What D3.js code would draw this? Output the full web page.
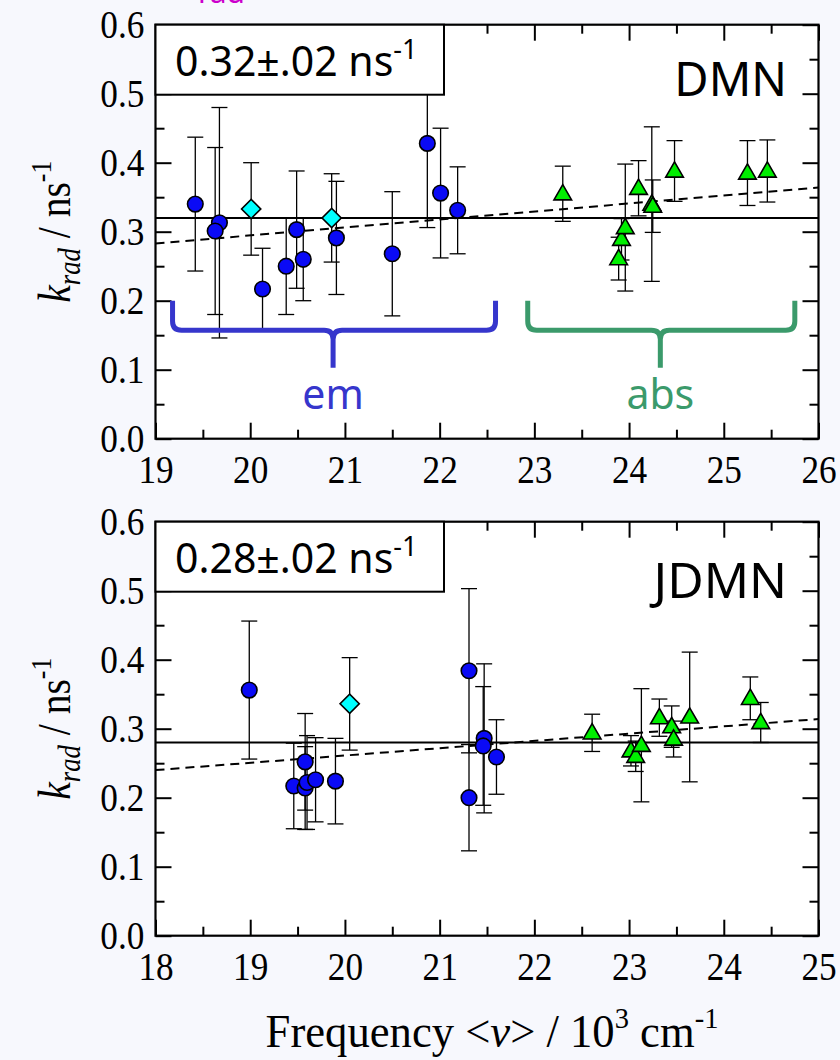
<!DOCTYPE html>
<html><head><meta charset="utf-8">
<script src="https://cdn.jsdelivr.net/npm/d3@7"></script>
<style>
html,body{margin:0;padding:0;background:#f7f8fd;}
svg{display:block;}
</style></head><body>
<svg id="chart" width="840" height="1060"></svg>
<script>
// ---- data: DMN (top panel) ----
const dmnEmX   = [19.42, 19.675, 19.63, 20.13, 20.38, 20.49, 20.56, 20.91, 21.50, 21.87, 22.01, 22.19];
const dmnEmY   = [0.340, 0.313, 0.301, 0.217, 0.250, 0.303, 0.260, 0.291, 0.268, 0.428, 0.356, 0.331];
const dmnEmErr = [0.097, 0.167, 0.121, 0.059, 0.070, 0.085, 0.060, 0.082, 0.090, 0.122, 0.094, 0.063];
const dmnAltX   = [20.01, 20.86];
const dmnAltY   = [0.333, 0.320];
const dmnAltErr = [0.067, 0.064];
const dmnAbsX   = [23.30, 23.89, 23.92, 23.96, 24.10, 24.24, 24.25, 24.48, 25.25, 25.46];
const dmnAbsY   = [0.355, 0.261, 0.289, 0.306, 0.363, 0.340, 0.337, 0.388, 0.385, 0.388];
const dmnAbsErr = [0.040, 0.031, 0.030, 0.092, 0.040, 0.112, 0.038, 0.044, 0.047, 0.045];
const dmnMean = 0.32;
const dmnFitEnds = [[19, 0.283], [26, 0.364]];
const dmnLabel = "0.32\u00b1.02 ns";

// ---- data: JDMN (bottom panel) ----
const jdmnEmX   = [18.99, 19.46, 19.58, 19.58, 19.60, 19.69, 19.90, 21.31, 21.31, 21.47, 21.46, 21.60];
const jdmnEmY   = [0.356, 0.217, 0.252, 0.214, 0.222, 0.226, 0.224, 0.384, 0.200, 0.286, 0.275, 0.259];
const jdmnEmErr = [0.100, 0.062, 0.070, 0.060, 0.068, 0.061, 0.062, 0.119, 0.077, 0.108, 0.086, 0.054];
const jdmnAltX   = [20.05];
const jdmnAltY   = [0.336];
const jdmnAltErr = [0.067];
const jdmnAbsX   = [22.61, 23.02, 23.07, 23.13, 23.32, 23.45, 23.47, 23.64, 24.28, 24.39];
const jdmnAbsY   = [0.294, 0.268, 0.260, 0.276, 0.316, 0.303, 0.285, 0.317, 0.344, 0.309];
const jdmnAbsErr = [0.027, 0.022, 0.022, 0.082, 0.027, 0.030, 0.026, 0.094, 0.031, 0.029];
const jdmnMean = 0.28;
const jdmnFitEnds = [[18, 0.240], [25, 0.314]];
const jdmnLabel = "0.28\u00b1.02 ns";

// ---- axes ----
const yTicks = [0, 0.1, 0.2, 0.3, 0.4, 0.5, 0.6];
const yMinorTicks = [0.05, 0.15, 0.25, 0.35, 0.45, 0.55];
const dmnXTicks = [19, 20, 21, 22, 23, 24, 25, 26];
const jdmnXTicks = [18, 19, 20, 21, 22, 23, 24, 25];

// bracket annotations in the DMN panel: [left, mid, right] frequency, label
const bracketEm  = {x: [19.18, 20.875, 22.59], label: "em"};
const bracketAbs = {x: [22.93, 24.33, 25.75], label: "abs"};

const svg = d3.select("#chart");
const serif = "'Liberation Serif', 'Times New Roman', serif";
const sans = "'Noto Sans', 'Open Sans', sans-serif";

const plotLeft = 155.5, plotRight = 818.5;

function zipPts(xs, ys, es) { return xs.map((x, i) => ({x, y: ys[i], e: es[i]})); }

function drawPanel(cfg) {
  const g = svg.append("g");
  const x = d3.scaleLinear().domain(cfg.xDomain).range([plotLeft, plotRight]);
  const y = d3.scaleLinear().domain([0, 0.6]).range([cfg.bottom, cfg.top]);

  g.append("rect").attr("x", plotLeft).attr("y", cfg.top)
    .attr("width", plotRight - plotLeft).attr("height", cfg.bottom - cfg.top)
    .attr("fill", "#fff");

  // mean rate
  g.append("line").attr("x1", plotLeft).attr("x2", plotRight)
    .attr("y1", y(cfg.mean)).attr("y2", y(cfg.mean))
    .attr("stroke", "#000").attr("stroke-width", 2);
  // linear trend
  g.append("line")
    .attr("x1", x(cfg.fit[0][0])).attr("y1", y(cfg.fit[0][1]))
    .attr("x2", x(cfg.fit[1][0])).attr("y2", y(cfg.fit[1][1]))
    .attr("stroke", "#000").attr("stroke-width", 2).attr("stroke-dasharray", "9,6");

  const all = [...cfg.em, ...cfg.alt, ...cfg.abs];
  const eb = g.append("g").attr("stroke", "#000").attr("stroke-width", 1.3);
  all.forEach(d => {
    const cx = x(d.x), y1 = y(d.y + d.e), y2 = y(d.y - d.e);
    eb.append("line").attr("x1", cx).attr("x2", cx).attr("y1", y1).attr("y2", y2);
    eb.append("line").attr("x1", cx - 8).attr("x2", cx + 8).attr("y1", y1).attr("y2", y1);
    eb.append("line").attr("x1", cx - 8).attr("x2", cx + 8).attr("y1", y2).attr("y2", y2);
  });

  const circ = d3.symbol(d3.symbolCircle).size(190)();
  const diam = d3.symbol(d3.symbolSquare).size(185)();
  const tri = d3.symbol(d3.symbolTriangle).size(135)();

  g.append("g").selectAll("path").data(cfg.em).join("path")
    .attr("d", circ).attr("transform", d => `translate(${x(d.x)},${y(d.y)})`)
    .attr("fill", "#0a0af5").attr("stroke", "#000").attr("stroke-width", 1.6);
  g.append("g").selectAll("path").data(cfg.alt).join("path")
    .attr("d", diam).attr("transform", d => `translate(${x(d.x)},${y(d.y)}) rotate(45)`)
    .attr("fill", "#00ffff").attr("stroke", "#000").attr("stroke-width", 1.6);
  g.append("g").selectAll("path").data(cfg.abs).join("path")
    .attr("d", tri).attr("transform", d => `translate(${x(d.x)},${y(d.y) + 1})`)
    .attr("fill", "#00ee00").attr("stroke", "#000").attr("stroke-width", 1.6);

  // axes with inward ticks
  const xMinor = d3.range(cfg.xDomain[0] + 0.5, cfg.xDomain[1], 1);
  const axes = [
    [d3.axisBottom(x).tickValues(cfg.xTicks).tickSizeInner(-16).tickSizeOuter(0).tickPadding(15).tickFormat(d3.format("d")), `translate(0,${cfg.bottom})`],
    [d3.axisBottom(x).tickValues(xMinor).tickSizeInner(-9).tickSizeOuter(0).tickFormat(""), `translate(0,${cfg.bottom})`],
    [d3.axisTop(x).tickValues(cfg.xTicks).tickSizeInner(-16).tickSizeOuter(0).tickFormat(""), `translate(0,${cfg.top})`],
    [d3.axisTop(x).tickValues(xMinor).tickSizeInner(-9).tickSizeOuter(0).tickFormat(""), `translate(0,${cfg.top})`],
    [d3.axisLeft(y).tickValues(yTicks).tickSizeInner(-16).tickSizeOuter(0).tickPadding(13).tickFormat(d3.format(".1f")), `translate(${plotLeft},0)`],
    [d3.axisLeft(y).tickValues(yMinorTicks).tickSizeInner(-9).tickSizeOuter(0).tickFormat(""), `translate(${plotLeft},0)`],
    [d3.axisRight(y).tickValues(yTicks).tickSizeInner(-16).tickSizeOuter(0).tickFormat(""), `translate(${plotRight},0)`],
    [d3.axisRight(y).tickValues(yMinorTicks).tickSizeInner(-9).tickSizeOuter(0).tickFormat(""), `translate(${plotRight},0)`]
  ];
  axes.forEach(([ax, tr]) => {
    const a = g.append("g").attr("transform", tr).call(ax);
    a.select(".domain").remove();
    a.selectAll(".tick line").attr("stroke", "#000").attr("stroke-width", 2);
    a.selectAll(".tick text").attr("font-family", serif).attr("font-size", 41)
      .attr("fill", "#000").attr("transform", "scale(0.86,1)");
  });

  g.append("rect").attr("x", plotLeft).attr("y", cfg.top)
    .attr("width", plotRight - plotLeft).attr("height", cfg.bottom - cfg.top)
    .attr("fill", "none").attr("stroke", "#000").attr("stroke-width", 2.2);

  // rate box
  g.append("rect").attr("x", plotLeft).attr("y", cfg.top)
    .attr("width", 288.5).attr("height", 70)
    .attr("fill", "#fff").attr("stroke", "#000").attr("stroke-width", 2);
  const bt = g.append("text").attr("x", 175).attr("y", cfg.top + 51)
    .attr("font-family", sans).attr("font-size", 41).attr("fill", "#000");
  bt.append("tspan").text(cfg.label);
  bt.append("tspan").attr("font-size", 27).attr("dy", -17).text("-1");

  g.append("text").attr("x", 787).attr("y", cfg.top + cfg.nameDy)
    .attr("text-anchor", "end").attr("font-family", sans).attr("font-size", cfg.nameSize)
    .attr("fill", "#000").text(cfg.name);

  // y-axis title
  const yt = g.append("text")
    .attr("transform", `translate(70,${(cfg.top + cfg.bottom) / 2}) rotate(-90) scale(0.86,1)`)
    .attr("text-anchor", "middle").attr("font-family", serif).attr("font-size", 46).attr("fill", "#000");
  yt.append("tspan").attr("font-style", "italic").text("k");
  yt.append("tspan").attr("font-style", "italic").attr("font-size", 31).attr("dy", 10).text("rad");
  yt.append("tspan").attr("dy", -10).text(" / ns");
  yt.append("tspan").attr("font-size", 30).attr("dy", -19).text("-1");

  return {g, x, y};
}

const dmnPanel = drawPanel({
  xDomain: [19, 26], top: 24.7, bottom: 438.7, xTicks: dmnXTicks,
  em: zipPts(dmnEmX, dmnEmY, dmnEmErr), alt: zipPts(dmnAltX, dmnAltY, dmnAltErr),
  abs: zipPts(dmnAbsX, dmnAbsY, dmnAbsErr), mean: dmnMean, fit: dmnFitEnds,
  label: dmnLabel, name: "DMN", nameDy: 71, nameSize: 47
});
drawPanel({
  xDomain: [18, 25], top: 521.7, bottom: 935.7, xTicks: jdmnXTicks,
  em: zipPts(jdmnEmX, jdmnEmY, jdmnEmErr), alt: zipPts(jdmnAltX, jdmnAltY, jdmnAltErr),
  abs: zipPts(jdmnAbsX, jdmnAbsY, jdmnAbsErr), mean: jdmnMean, fit: jdmnFitEnds,
  label: jdmnLabel, name: "JDMN", nameDy: 76, nameSize: 50
});

// curly brackets marking emission and absorption ranges
function bracket(b, color) {
  const {x, y} = dmnPanel;
  const [l, m, r] = b.x.map(x);
  const yT = y(0.2), yH = y(0.157), yS = y(0.103), rr = 9;
  const p = d3.path();
  p.moveTo(l, yT); p.lineTo(l, yH - rr); p.quadraticCurveTo(l, yH, l + rr, yH);
  p.lineTo(m - rr, yH); p.quadraticCurveTo(m, yH, m, yH + rr); p.lineTo(m, yS);
  p.moveTo(m, yH + rr); p.quadraticCurveTo(m, yH, m + rr, yH);
  p.lineTo(r - rr, yH); p.quadraticCurveTo(r, yH, r, yH - rr); p.lineTo(r, yT);
  svg.append("path").attr("d", p.toString()).attr("fill", "none")
    .attr("stroke", color).attr("stroke-width", 5);
  svg.append("text").attr("x", m).attr("y", y(0.043)).attr("text-anchor", "middle")
    .attr("font-family", sans).attr("font-size", 41).attr("fill", color).text(b.label);
}
bracket(bracketEm, "#3636cc");
bracket(bracketAbs, "#3b9a6b");

// partially visible heading line at the very top
svg.append("text").attr("x", 198).attr("y", 3).attr("font-family", sans)
  .attr("font-size", 30).attr("fill", "#cc00cc").text("rad");

// x-axis title
const xt = svg.append("text").attr("transform", "translate(492,1047) scale(0.95,1)")
  .attr("text-anchor", "middle")
  .attr("font-family", serif).attr("font-size", 47).attr("fill", "#000");
xt.append("tspan").text("Frequency <");
xt.append("tspan").attr("font-style", "italic").text("\u03bd");
xt.append("tspan").text("> / 10");
xt.append("tspan").attr("font-size", 30).attr("dy", -19).text("3");
xt.append("tspan").attr("dy", 19).text(" cm");
xt.append("tspan").attr("font-size", 30).attr("dy", -19).text("-1");
</script></body></html>
